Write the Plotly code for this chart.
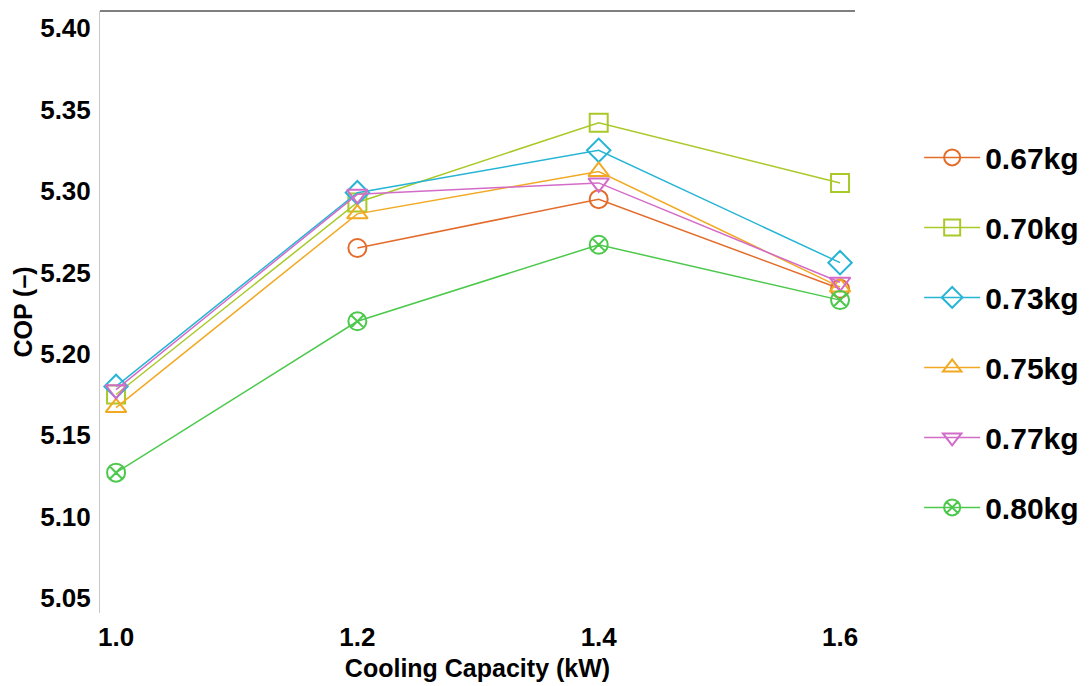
import plotly.graph_objects as go

# Cooling capacity (kW) on the x axis
capacity = [1.0, 1.2, 1.4, 1.6]

# COP for each refrigerant charge
series_names = ["0.67kg", "0.70kg", "0.73kg", "0.75kg", "0.77kg", "0.80kg"]
cop_067 = [None, 5.265, 5.295, 5.240]
cop_070 = [5.175, 5.293, 5.342, 5.305]
cop_073 = [5.180, 5.299, 5.325, 5.256]
cop_075 = [5.167, 5.286, 5.312, 5.241]
cop_077 = [5.178, 5.298, 5.305, 5.244]
cop_080 = [5.127, 5.220, 5.267, 5.233]

y_ticks = [5.05, 5.10, 5.15, 5.20, 5.25, 5.30, 5.35, 5.40]
x_ticks = [1.0, 1.2, 1.4, 1.6]

series_values = [cop_067, cop_070, cop_073, cop_075, cop_077, cop_080]
colors = ["#E36C2B", "#A9C928", "#27B5D6", "#F2A922", "#D36CC8", "#4CC94C"]
symbols = ["circle-open", "square-open", "diamond-open",
           "triangle-up-open", "triangle-down-open", "circle-x-open"]

fig = go.Figure()
for name, vals, col, sym in zip(series_names, series_values, colors, symbols):
    fig.add_trace(go.Scatter(
        x=capacity, y=vals, name=name, mode="lines+markers",
        legendgroup=name,
        line=dict(color=col, width=1.5),
        marker=dict(symbol=sym, size=18, color=col, line=dict(color=col, width=2)),
        connectgaps=False,
    ))

font_family = "Liberation Sans, Arial, sans-serif"

fig.update_layout(
    width=1089, height=686,
    margin=dict(l=100, r=234, t=11, b=73, autoexpand=False),
    paper_bgcolor="white", plot_bgcolor="white",
    font=dict(family=font_family, color="black", size=24),
    showlegend=True,
    legend=dict(
        x=1.085, xanchor="left", y=0.80, yanchor="top",
        font=dict(family=font_family, size=30, color="black", weight="bold"),
        tracegroupgap=28, itemwidth=56,
        bgcolor="rgba(0,0,0,0)",
    ),
    xaxis=dict(
        range=[0.9867, 1.6124], tickvals=x_ticks, ticktext=["1.0", "1.2", "1.4", "1.6"],
        showgrid=False, zeroline=False, showline=False, ticks="",
        automargin=False, ticklabelstandoff=6,
        tickfont=dict(family=font_family, size=26, color="black", weight="bold"),
        title=dict(text="Cooling Capacity (kW)", standoff=8,
                   font=dict(family=font_family, size=25, color="black", weight="bold")),
    ),
    yaxis=dict(
        range=[5.0408, 5.4106], tickvals=y_ticks, ticktext=[f"{v:.2f}" for v in y_ticks],
        showgrid=False, zeroline=False, showline=True, linecolor="#C8C8C8", linewidth=1,
        ticks="", automargin=False, ticklabelstandoff=3,
        tickfont=dict(family=font_family, size=26, color="black", weight="bold"),
        title=dict(text="COP (–)", standoff=0,
                   font=dict(family=font_family, size=25, color="black", weight="bold")),
    ),
    shapes=[dict(type="line", xref="paper", yref="paper", x0=0, x1=1, y0=1, y1=1,
                 line=dict(color="black", width=1))],
)

fig.write_html("out.html")
